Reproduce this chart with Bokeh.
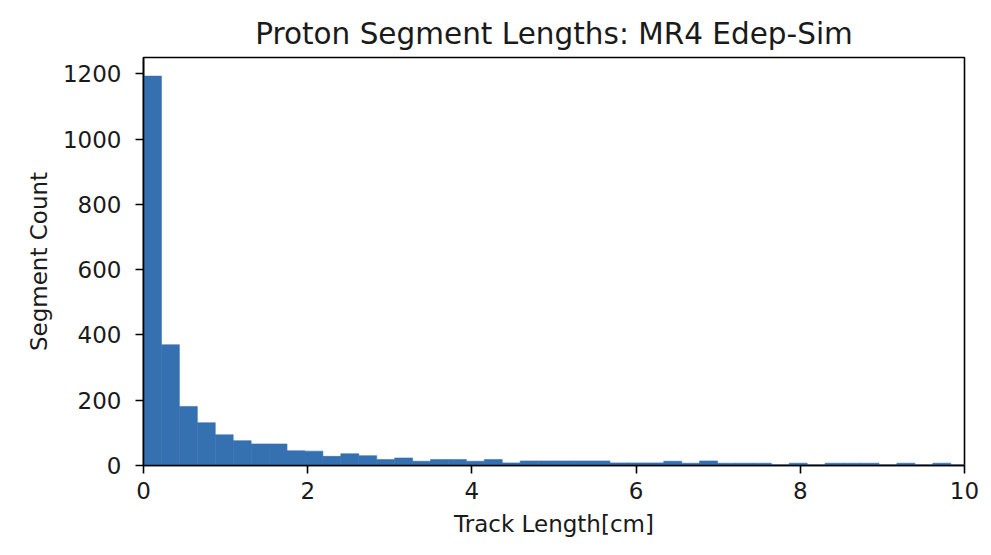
from bokeh.plotting import figure
from bokeh.embed import file_html
from bokeh.resources import INLINE
from bokeh.models import Range1d, FixedTicker

# --- data ---
bin_width = 0.2185
counts = [1193, 370, 181, 131, 94, 76, 66, 66, 45, 44,
          28, 36, 30, 18, 23, 13, 18, 18, 13, 18,
          8, 14, 14, 14, 14, 14, 8, 8, 8, 13,
          7, 14, 7, 7, 7, 2, 7, 2, 7, 7,
          7, 2, 7, 2, 7, 2]
x_ticks = [0, 2, 4, 6, 8, 10]
y_ticks = [0, 200, 400, 600, 800, 1000, 1200]
title_text = "Proton Segment Lengths: MR4 Edep-Sim"
x_label = "Track Length[cm]"
y_label = "Segment Count"

lefts = [i * bin_width for i in range(len(counts))]
rights = [(i + 1) * bin_width for i in range(len(counts))]

FONT = "DejaVu Sans"
BAR = "#3571b1"

p = figure(width=983, height=547, output_backend="svg", toolbar_location=None,
           x_range=Range1d(0, 10), y_range=Range1d(0, 1250), title=title_text,
           min_border_left=143, min_border_right=19, min_border_top=57,
           min_border_bottom=82)

p.quad(left=lefts, right=rights, bottom=0, top=counts,
       fill_color=BAR, line_color=BAR, line_width=0.6)

p.title.align = "center"
p.title.text_font = FONT
p.title.text_font_size = "29.5px"
p.title.text_font_style = "normal"
p.title.text_color = "#1a1a1a"
p.title.standoff = 14

p.xgrid.visible = False
p.ygrid.visible = False
p.outline_line_color = "black"
p.outline_line_width = 1.6
p.outline_line_alpha = 1.0
p.background_fill_color = "white"
p.border_fill_color = "white"

for ax in (p.xaxis[0], p.yaxis[0]):
    ax.axis_line_color = "black"
    ax.axis_line_width = 1.6
    ax.major_tick_line_color = "black"
    ax.major_tick_line_width = 1.6
    ax.major_tick_out = 8
    ax.major_tick_in = 0
    ax.minor_tick_line_color = None
    ax.major_label_text_font = FONT
    ax.major_label_text_font_size = "23px"
    ax.major_label_text_color = "#1a1a1a"
    ax.axis_label_text_font = FONT
    ax.axis_label_text_font_size = "23px"
    ax.axis_label_text_font_style = "normal"
    ax.axis_label_text_color = "#1a1a1a"

p.xaxis[0].ticker = FixedTicker(ticks=x_ticks)
p.yaxis[0].ticker = FixedTicker(ticks=y_ticks)
p.xaxis[0].axis_label = x_label
p.yaxis[0].axis_label = y_label
p.xaxis[0].major_label_standoff = 8
p.yaxis[0].major_label_standoff = 14
p.xaxis[0].axis_label_standoff = 9
p.yaxis[0].axis_label_standoff = 8

open("out.html", "w").write(file_html(p, INLINE))
